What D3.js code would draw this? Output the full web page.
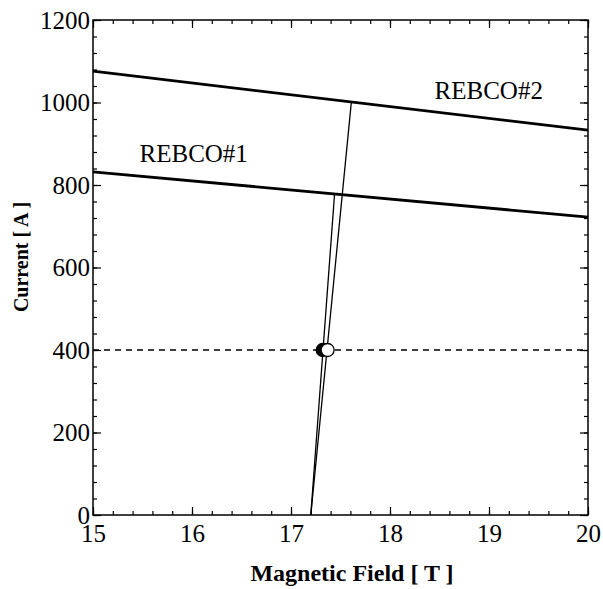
<!DOCTYPE html>
<html>
<head>
<meta charset="utf-8">
<script src="https://cdn.jsdelivr.net/npm/d3@7"></script>
<style>
  body { margin: 0; background: #fff; }
  text { font-family: "Liberation Serif", "Times New Roman", serif; fill: #000; }
</style>
</head>
<body>
<script>
// critical current lines of the two tapes (field [T], current [A])
var rebco1 = [[15, 832], [20, 722]];
var rebco2 = [[15, 1076], [20, 933]];

// load lines from the origin at 17.2 T up to each Ic line
var loadLine1 = [[17.2, 0], [17.44, 778]];
var loadLine2 = [[17.2, 0], [17.61, 1002]];

// operating points at 400 A
var opPoints = [
  { field: 17.32, current: 400, fill: "#000" },
  { field: 17.37, current: 400, fill: "#fff" }
];

var labels = [
  { text: "REBCO#1", field: 15.47, current: 855 },
  { text: "REBCO#2", field: 18.45, current: 1008 }
];

var xTicks = [15, 16, 17, 18, 19, 20];
var yTicks = [0, 200, 400, 600, 800, 1000, 1200];

var width = 603, height = 589;
var margin = { top: 20, right: 15, bottom: 74, left: 93 };
var innerW = width - margin.left - margin.right,
    innerH = height - margin.top - margin.bottom;

var svg = d3.select("body").append("svg")
    .attr("width", width)
    .attr("height", height);

var g = svg.append("g")
    .attr("transform", "translate(" + margin.left + "," + margin.top + ")");

var x = d3.scaleLinear().domain([15, 20]).range([0, innerW]);
var y = d3.scaleLinear().domain([0, 1200]).range([innerH, 0]);

var line = d3.line()
    .x(function(d) { return x(d[0]); })
    .y(function(d) { return y(d[1]); });

// minor ticks, inward on all four sides
var xMinor = d3.range(15, 20.001, 0.2);
var yMinor = d3.range(0, 1200.001, 40);

function addAxis(axis, tr, cls) {
  var a = g.append("g").attr("class", cls).attr("transform", tr).call(axis);
  a.select(".domain").remove();
  a.selectAll("line").attr("stroke", "#000").attr("stroke-width", 1.2);
  return a;
}

addAxis(d3.axisBottom(x).tickValues(xMinor).tickSize(-4).tickFormat(""), "translate(0," + innerH + ")", "xminor");
addAxis(d3.axisTop(x).tickValues(xMinor).tickSize(-4).tickFormat(""), "translate(0,0)", "xminor");
addAxis(d3.axisLeft(y).tickValues(yMinor).tickSize(-4).tickFormat(""), "translate(0,0)", "yminor");
addAxis(d3.axisRight(y).tickValues(yMinor).tickSize(-4).tickFormat(""), "translate(" + innerW + ",0)", "yminor");

var xAxis = addAxis(d3.axisBottom(x).tickValues(xTicks).tickSize(-8).tickFormat(d3.format("d")),
  "translate(0," + innerH + ")", "xaxis");
xAxis.selectAll("text").attr("font-size", 25).attr("y", 27).attr("dy", 0)
  .style("font-family", "Liberation Serif");
addAxis(d3.axisTop(x).tickValues(xTicks).tickSize(-8).tickFormat(""), "translate(0,0)", "xtop");

var yAxis = addAxis(d3.axisLeft(y).tickValues(yTicks).tickSize(-8).tickPadding(3).tickFormat(d3.format("d")),
  "translate(0,0)", "yaxis");
yAxis.selectAll("text").attr("font-size", 25)
  .style("font-family", "Liberation Serif");
addAxis(d3.axisRight(y).tickValues(yTicks).tickSize(-8).tickFormat(""), "translate(" + innerW + ",0)", "yright");

// dashed operating current line
g.append("line")
  .attr("x1", 0).attr("x2", innerW)
  .attr("y1", y(400)).attr("y2", y(400))
  .attr("stroke", "#000").attr("stroke-width", 1.3)
  .attr("stroke-dasharray", "6,5");

// Ic lines
[rebco1, rebco2].forEach(function(d) {
  g.append("path").datum(d)
    .attr("d", line)
    .attr("fill", "none").attr("stroke", "#000").attr("stroke-width", 2.8);
});

// load lines
[loadLine1, loadLine2].forEach(function(d) {
  g.append("path").datum(d)
    .attr("d", line)
    .attr("fill", "none").attr("stroke", "#000").attr("stroke-width", 1.3);
});

g.selectAll(".op").data(opPoints).enter()
  .append("circle")
  .attr("class", "op")
  .attr("cx", function(d) { return x(d.field); })
  .attr("cy", function(d) { return y(d.current); })
  .attr("r", 6.5)
  .attr("fill", function(d) { return d.fill; })
  .attr("stroke", "#000").attr("stroke-width", 1.3);

g.selectAll(".lbl").data(labels).enter()
  .append("text")
  .attr("class", "lbl")
  .attr("x", function(d) { return x(d.field); })
  .attr("y", function(d) { return y(d.current); })
  .attr("font-size", 25)
  .text(function(d) { return d.text; });

// frame
g.append("rect")
  .attr("width", innerW).attr("height", innerH)
  .attr("fill", "none").attr("stroke", "#000").attr("stroke-width", 1.5);

// axis titles
svg.append("text")
  .attr("x", 352).attr("y", 581)
  .attr("text-anchor", "middle")
  .attr("font-size", 24).attr("font-weight", "bold")
  .text("Magnetic Field [ T ]");

svg.append("text")
  .attr("transform", "translate(28,257) rotate(-90)")
  .attr("text-anchor", "middle")
  .attr("font-size", 20).attr("font-weight", "bold")
  .text("Current [ A ]");
</script>
</body>
</html>
